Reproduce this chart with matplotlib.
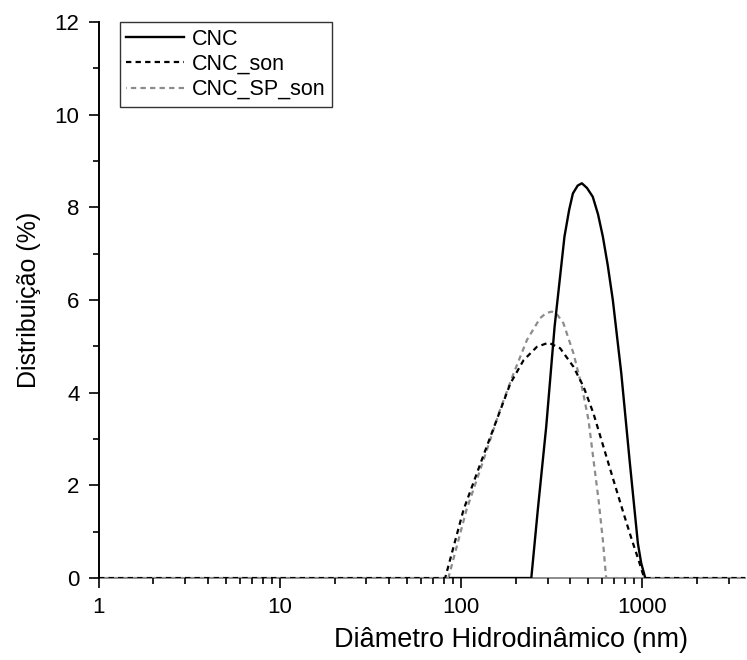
import matplotlib
matplotlib.use("Agg")
import matplotlib.pyplot as plt
from matplotlib.ticker import FixedLocator, LogLocator, NullFormatter

plt.rcParams["font.family"] = ["Liberation Sans", "DejaVu Sans"]

# CNC (solid black)
cnc_x = [87, 244, 265, 295, 328, 372, 395, 414, 440, 464, 495, 533, 570, 606, 645, 688, 766, 851, 946, 987, 1039]
cnc_y = [0, 0, 1.47, 3.27, 5.42, 7.37, 7.95, 8.30, 8.47, 8.52, 8.42, 8.23, 7.85, 7.37, 6.75, 6.0, 4.42, 2.55, 0.75, 0.32, 0]

# CNC_son (black dashed)
son_x = [1, 81.6, 103, 130, 157, 187, 221, 262, 304, 352, 417, 474, 538, 611, 694, 788, 877, 954, 1025, 4000]
son_y = [0, 0, 1.47, 2.55, 3.41, 4.2, 4.7, 4.99, 5.08, 4.96, 4.56, 4.13, 3.55, 2.83, 2.11, 1.40, 0.82, 0.39, 0, 0]

# CNC_SP_son (grey dashed)
sp_x = [1, 85, 107, 133, 164, 195, 231, 273, 295, 317, 340, 367, 417, 464, 505, 538, 574, 606, 632, 4000]
sp_y = [0, 0, 1.47, 2.55, 3.63, 4.42, 5.14, 5.61, 5.72, 5.75, 5.68, 5.50, 4.85, 4.13, 3.41, 2.55, 1.68, 0.82, 0, 0]

fig = plt.figure(figsize=(7.47, 6.6), dpi=100)
ax = fig.add_axes([0.1325, 0.1242, 0.865, 0.8424])

ax.plot(cnc_x, cnc_y, color="black", lw=1.7, label="CNC", zorder=3)
ax.plot(son_x, son_y, color="black", lw=1.6, ls=(0, (2.4, 1.9)), label="CNC_son", zorder=4)
ax.plot(sp_x, sp_y, color="#8c8c8c", lw=1.6, ls=(2.1, (2.4, 1.9)), label="CNC_SP_son", zorder=2)

ax.set_xscale("log")
ax.set_xlim(1, 3700)
ax.set_ylim(0, 12)

ax.xaxis.set_major_locator(FixedLocator([1, 10, 100, 1000]))
ax.xaxis.set_minor_locator(LogLocator(base=10, subs=range(2, 10)))
ax.xaxis.set_minor_formatter(NullFormatter())
ax.set_xticklabels(["1", "10", "100", "1000"])
ax.yaxis.set_major_locator(FixedLocator([0, 2, 4, 6, 8, 10, 12]))
ax.yaxis.set_minor_locator(FixedLocator([1, 3, 5, 7, 9, 11]))

ax.tick_params(which="major", direction="out", length=7, width=1.2, labelsize=16, pad=7)
ax.tick_params(which="minor", direction="out", length=4, width=1.2)

for s in ["top", "right"]:
    ax.spines[s].set_visible(False)
ax.spines["left"].set_linewidth(1.4)
ax.spines["bottom"].set_linewidth(1.4)
ax.spines["bottom"].set_color("#8c8c8c")
ax.spines["bottom"].set_zorder(1)

ax.set_xlabel("Diâmetro Hidrodinâmico (nm)", fontsize=19.5)
ax.xaxis.set_label_coords(0.638, -0.088)
ax.set_ylabel("Distribuição (%)", fontsize=18, labelpad=10)

leg = ax.legend(loc="upper left", bbox_to_anchor=(0.032, 1.0), fontsize=15.5, frameon=True,
                fancybox=False, edgecolor="black", handlelength=2.7, borderpad=0.3,
                labelspacing=0.2, handletextpad=0.35, borderaxespad=0.0)
leg.get_frame().set_linewidth(1.0)

fig.savefig("out.png", dpi=100)
